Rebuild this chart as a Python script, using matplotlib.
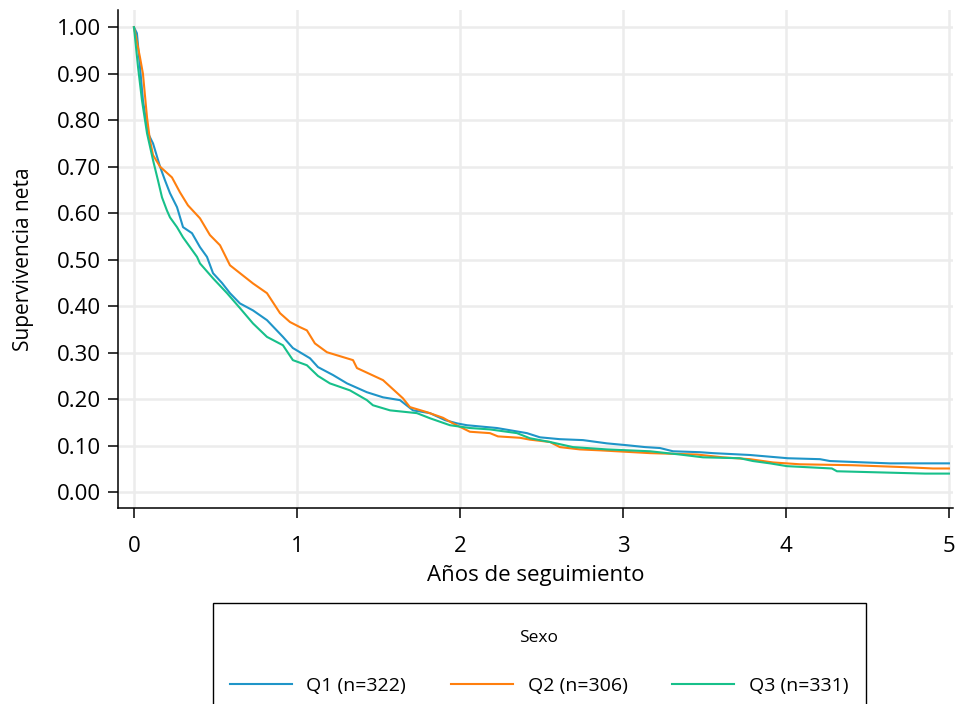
import matplotlib
matplotlib.use("Agg")
import matplotlib.pyplot as plt
from matplotlib.lines import Line2D
from matplotlib.patches import Rectangle
from matplotlib.ticker import FormatStrFormatter

plt.rcParams["font.family"] = ["Open Sans", "DejaVu Sans"]

# net survival estimates (years, proportion)
q1_t = [0.000, 0.018, 0.037, 0.055, 0.086, 0.117, 0.160, 0.190, 0.221, 0.264,
        0.301, 0.356, 0.405, 0.448, 0.485, 0.540, 0.589, 0.650, 0.730, 0.816,
        0.914, 0.975, 1.018, 1.080, 1.129, 1.221, 1.307, 1.429, 1.528, 1.632,
        1.712, 1.816, 1.908, 1.982, 2.043, 2.227, 2.411, 2.491, 2.613, 2.755,
        2.902, 3.025, 3.135, 3.227, 3.307, 3.472, 3.552, 3.779, 4.012, 4.209,
        4.270, 4.485, 4.638, 5.000]
q1_s = [1.000, 0.987, 0.914, 0.843, 0.772, 0.750, 0.700, 0.671, 0.643, 0.613,
        0.570, 0.557, 0.527, 0.506, 0.471, 0.450, 0.428, 0.406, 0.391, 0.370,
        0.334, 0.310, 0.301, 0.288, 0.269, 0.252, 0.234, 0.215, 0.204, 0.198,
        0.176, 0.170, 0.155, 0.148, 0.144, 0.138, 0.127, 0.118, 0.114, 0.112,
        0.105, 0.101, 0.097, 0.095, 0.088, 0.086, 0.084, 0.080, 0.073, 0.071,
        0.067, 0.064, 0.062, 0.062]

q2_t = [0.000, 0.037, 0.055, 0.080, 0.098, 0.117, 0.160, 0.233, 0.282, 0.331,
        0.405, 0.466, 0.528, 0.589, 0.730, 0.816, 0.896, 0.957, 1.018, 1.061,
        1.110, 1.184, 1.344, 1.368, 1.528, 1.650, 1.693, 1.798, 1.896, 1.957,
        2.061, 2.184, 2.233, 2.368, 2.429, 2.552, 2.613, 2.736, 2.859, 3.166,
        3.454, 3.613, 3.779, 3.920, 4.086, 4.405, 4.718, 4.902, 5.000]
q2_s = [1.000, 0.935, 0.900, 0.806, 0.757, 0.725, 0.700, 0.677, 0.645, 0.617,
        0.589, 0.553, 0.531, 0.488, 0.449, 0.428, 0.385, 0.366, 0.355, 0.348,
        0.320, 0.301, 0.284, 0.267, 0.241, 0.202, 0.183, 0.172, 0.160, 0.148,
        0.130, 0.127, 0.120, 0.117, 0.113, 0.108, 0.097, 0.092, 0.090, 0.084,
        0.081, 0.075, 0.071, 0.064, 0.060, 0.058, 0.054, 0.051, 0.051]

q3_t = [0.000, 0.025, 0.049, 0.080, 0.117, 0.147, 0.172, 0.202, 0.221, 0.264,
        0.301, 0.344, 0.387, 0.405, 0.485, 0.571, 0.650, 0.730, 0.816, 0.914,
        0.975, 1.061, 1.129, 1.202, 1.325, 1.429, 1.466, 1.571, 1.736, 1.816,
        1.939, 2.061, 2.184, 2.350, 2.429, 2.552, 2.693, 2.902, 3.166, 3.350,
        3.491, 3.718, 3.798, 3.902, 4.006, 4.282, 4.313, 4.853, 5.000]
q3_s = [1.000, 0.914, 0.843, 0.772, 0.714, 0.671, 0.634, 0.606, 0.591, 0.570,
        0.548, 0.527, 0.506, 0.492, 0.460, 0.428, 0.396, 0.363, 0.334, 0.316,
        0.284, 0.273, 0.250, 0.234, 0.219, 0.198, 0.187, 0.176, 0.170, 0.159,
        0.144, 0.138, 0.135, 0.127, 0.116, 0.108, 0.097, 0.092, 0.088, 0.081,
        0.075, 0.073, 0.067, 0.062, 0.056, 0.051, 0.045, 0.040, 0.040]

groups = ["Q1 (n=322)", "Q2 (n=306)", "Q3 (n=331)"]
colors = ["#1f95c8", "#ff7f0e", "#17c08a"]

fig = plt.figure(figsize=(9.55, 7.04), dpi=100)
ax = fig.add_axes([118 / 955, 196 / 704, 835 / 955, 498 / 704])

for (t, s), lab, col in zip([(q1_t, q1_s), (q2_t, q2_s), (q3_t, q3_s)], groups, colors):
    ax.plot(t, s, color=col, lw=1.5, label=lab, zorder=3)

ax.set_xlim(-0.098, 5.025)
ax.set_ylim(-0.034, 1.037)
ax.set_xticks(range(0, 6))
ax.set_yticks([i / 10 for i in range(11)])
ax.yaxis.set_major_formatter(FormatStrFormatter("%.2f"))
ax.grid(True, color="#ececec", lw=1.8, zorder=0)
ax.set_axisbelow(True)

for side in ["top", "right"]:
    ax.spines[side].set_visible(False)
for side in ["left", "bottom"]:
    ax.spines[side].set_linewidth(1.1)
ax.tick_params(axis="both", length=7, width=1.1, labelsize=16)
ax.tick_params(axis="x", pad=13)
ax.tick_params(axis="y", pad=5)

ax.set_xlabel("Años de seguimiento", fontsize=16, labelpad=6)
ax.set_ylabel("Supervivencia neta", fontsize=15, labelpad=17)

# legend box runs past the bottom edge of the figure
fig.patches.append(Rectangle((213 / 955, -0.05), 653 / 955, 0.05 + 101 / 704,
                             transform=fig.transFigure, fill=False,
                             edgecolor="black", lw=1.0))
handles = [Line2D([], [], color=c, lw=1.5) for c in colors]
leg = fig.legend(handles, groups, loc="upper center", ncol=3,
                 bbox_to_anchor=(539 / 955, 1 - 612 / 704), frameon=False,
                 title="Sexo", title_fontsize=12.5, fontsize=14,
                 handlelength=3.2, handletextpad=0.75, columnspacing=2.3,
                 labelspacing=1.6)

fig.savefig("out.png", dpi=100)
